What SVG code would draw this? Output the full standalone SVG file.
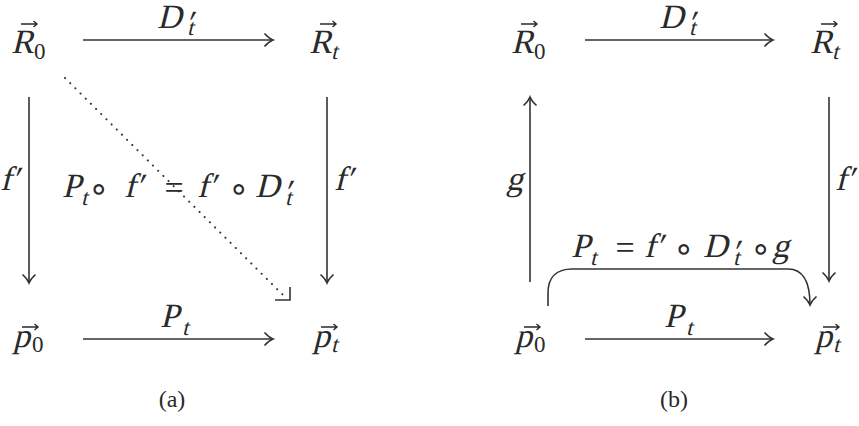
<svg xmlns="http://www.w3.org/2000/svg" xmlns:xlink="http://www.w3.org/1999/xlink" width="859" height="426" viewBox="0 0 859 426">
<style>
text{font-family:"Liberation Serif","DejaVu Serif",serif;fill:#2a2a2a}
.m{font-size:34px}
.s{font-size:23px}
.u{font-size:23px}
.pr{font-size:34px}
.eq{font-size:34px}
.op{font-family:"DejaVu Sans","Liberation Sans",sans-serif;font-size:34px}
.cap{font-size:24px}
.ln{fill:none;stroke:#333;stroke-width:1.6}
.dot{fill:none;stroke:#333;stroke-width:2;stroke-linecap:round;stroke-dasharray:0.1 7.2}
.vec{fill:none;stroke:#2a2a2a;stroke-width:1.4}
</style>
<defs>
<marker id="ah" markerUnits="userSpaceOnUse" markerWidth="14" markerHeight="16" refX="11" refY="8" orient="auto" viewBox="0 0 14 16">
<path d="M2.5 1.5 Q7 6.5 11 8 Q7 9.5 2.5 14.5" fill="none" stroke="#333" stroke-width="1.6"/>
</marker>
<path id="vec" class="vec" d="M0 0 H16 M12.5 -3 L16 0 L12.5 3"/>
</defs>
<rect width="859" height="426" fill="#fff"/>

<g id="connectors">
<line class="ln" x1="83" y1="40" x2="273" y2="40" marker-end="url(#ah)"/>
<line class="ln" x1="83" y1="339" x2="273" y2="339" marker-end="url(#ah)"/>
<line class="ln" x1="29" y1="97" x2="29" y2="283" marker-end="url(#ah)"/>
<line class="ln" x1="327" y1="97" x2="327" y2="283" marker-end="url(#ah)"/>
<line class="dot" x1="65" y1="78" x2="283" y2="295"/>
<path class="ln" d="M275 300 H290 V287"/>
<line class="ln" x1="585" y1="40" x2="773" y2="40" marker-end="url(#ah)"/>
<line class="ln" x1="585" y1="339" x2="773" y2="339" marker-end="url(#ah)"/>
<line class="ln" x1="530" y1="282" x2="530" y2="97" marker-end="url(#ah)"/>
<line class="ln" x1="829" y1="97" x2="829" y2="281" marker-end="url(#ah)"/>
<path class="ln" d="M548 306 L548 293 C548 278 556 269 572 269 L788 269 C802 269 810 280 810 305" marker-end="url(#ah)"/>
</g>

<g id="a-R0"><text class="m" transform="translate(11,53) skewX(-14)">R</text><text class="u" x="34" y="59">0</text><use xlink:href="#vec" x="21" y="24"/></g>
<g id="a-Rt"><text class="m" transform="translate(309,53) skewX(-14)">R</text><text class="s" transform="translate(331,59) skewX(-14)">t</text><use xlink:href="#vec" x="320" y="24"/></g>
<g id="a-p0"><text class="m" transform="translate(13,347) skewX(-14)">p</text><text class="u" x="32" y="352">0</text><use xlink:href="#vec" x="22" y="327"/></g>
<g id="a-pt"><text class="m" transform="translate(313,347) skewX(-14)">p</text><text class="s" transform="translate(331,352) skewX(-14)">t</text><use xlink:href="#vec" x="321" y="327"/></g>

<g id="a-labels">
<text class="m" transform="translate(157,28) skewX(-14)">D</text><text class="pr" transform="translate(185,34) skewX(-14)">′</text><text class="s" transform="translate(187,35) skewX(-14)">t</text>
<text class="m" transform="translate(160,327) skewX(-14)">P</text><text class="s" transform="translate(182,335) skewX(-14)">t</text>
<text class="m" transform="translate(0,190) skewX(-14)">f′</text>
<text class="m" transform="translate(334,190) skewX(-14)">f′</text>
<text class="m" transform="translate(62,197) skewX(-14)">P</text><text class="s" transform="translate(81,205) skewX(-14)">t</text>
<text class="op" x="99" y="200" text-anchor="middle">∘</text>
<text class="m" transform="translate(124,197) skewX(-14)">f′</text>
<text class="eq" x="174" y="199" text-anchor="middle">=</text>
<text class="m" transform="translate(197,197) skewX(-14)">f′</text>
<text class="op" x="239" y="200" text-anchor="middle">∘</text>
<text class="m" transform="translate(255,197) skewX(-14)">D</text><text class="pr" transform="translate(283,203) skewX(-14)">′</text><text class="s" transform="translate(285,205) skewX(-14)">t</text>
<text class="cap" x="172" y="407" text-anchor="middle">(a)</text>
</g>

<g id="b-R0"><text class="m" transform="translate(511,53) skewX(-14)">R</text><text class="u" x="534" y="59">0</text><use xlink:href="#vec" x="521" y="24"/></g>
<g id="b-Rt"><text class="m" transform="translate(810,53) skewX(-14)">R</text><text class="s" transform="translate(832,59) skewX(-14)">t</text><use xlink:href="#vec" x="821" y="24"/></g>
<g id="b-p0"><text class="m" transform="translate(515,347) skewX(-14)">p</text><text class="u" x="534" y="352">0</text><use xlink:href="#vec" x="524" y="327"/></g>
<g id="b-pt"><text class="m" transform="translate(815,347) skewX(-14)">p</text><text class="s" transform="translate(833,352) skewX(-14)">t</text><use xlink:href="#vec" x="823" y="327"/></g>

<g id="b-labels">
<text class="m" transform="translate(659,28) skewX(-14)">D</text><text class="pr" transform="translate(687,34) skewX(-14)">′</text><text class="s" transform="translate(689,35) skewX(-14)">t</text>
<text class="m" transform="translate(664,327) skewX(-14)">P</text><text class="s" transform="translate(686,335) skewX(-14)">t</text>
<text class="m" transform="translate(506,190) skewX(-14)">g</text>
<text class="m" transform="translate(835,190) skewX(-14)">f′</text>
<text class="m" transform="translate(571,257) skewX(-14)">P</text><text class="s" transform="translate(590,265) skewX(-14)">t</text>
<text class="eq" x="625" y="259" text-anchor="middle">=</text>
<text class="m" transform="translate(644,257) skewX(-14)">f′</text>
<text class="op" x="684" y="260" text-anchor="middle">∘</text>
<text class="m" transform="translate(703,257) skewX(-14)">D</text><text class="pr" transform="translate(731,263) skewX(-14)">′</text><text class="s" transform="translate(733,265) skewX(-14)">t</text>
<text class="op" x="761" y="260" text-anchor="middle">∘</text>
<text class="m" transform="translate(772,257) skewX(-14)">g</text>
<text class="cap" x="674" y="407" text-anchor="middle">(b)</text>
</g>
</svg>
